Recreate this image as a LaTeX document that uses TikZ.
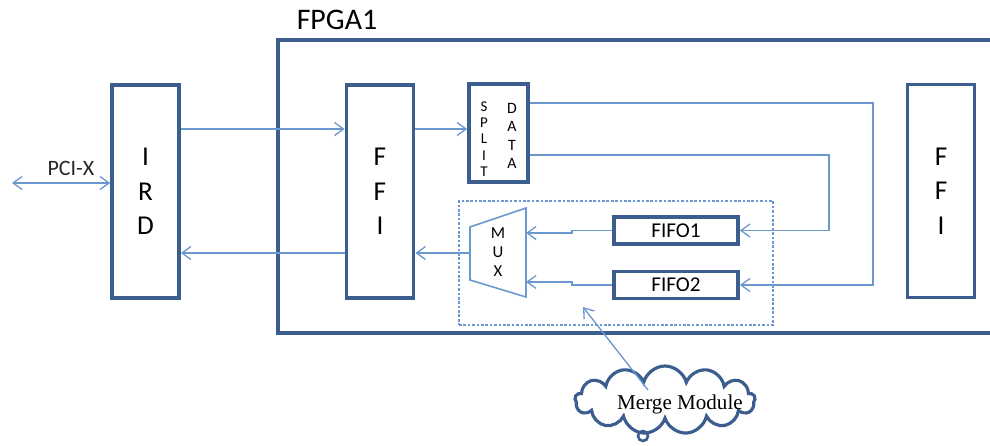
\documentclass[tikz,border=0pt]{standalone}
\usepackage{fontspec}
\setmainfont{Carlito}
\newfontfamily\mmfont{Liberation Serif}
\usetikzlibrary{arrows.meta,shapes.symbols}
\definecolor{boxblue}{RGB}{59,94,143}
\definecolor{wireblue}{RGB}{108,152,208}
\newcommand{\px}{0.2mm}
\tikzset{
  >={Straight Barb[length=1.8mm,width=2.6mm]},
  blk/.style={draw=boxblue, line width=2.1pt, fill=white, inner sep=0pt},
  tallblk/.style={blk, minimum width=67*\px, minimum height=213*\px, align=center, font=\fontsize{15.5}{19.5}\selectfont},
  fifoblk/.style={blk, minimum width=124*\px, minimum height=27*\px, font=\fontsize{12}{13}\selectfont},
  wire/.style={draw=wireblue, line width=0.75pt},
  letters/.style={align=center, inner sep=0pt},
}
\begin{document}
\begin{tikzpicture}[x=\px, y=-\px]
        % \draw[help lines] (0,0) grid[step=50] (990,445);
        \clip (0,0) rectangle (990,445);

        \draw[boxblue, line width=2pt] (278,40) rectangle (1000,333);
        \node[font=\fontsize{17}{19}\selectfont] (fpgalbl) at (337,20) {FPGA1};

        \node[tallblk] (ird) at (145.5,191.5) {I\\R\\D};
        \node[tallblk] (ffia) at (380,191.5) {F\\F\\I};
        \node[tallblk] (ffib) at (941,191) {F\\F\\I};

        \node[blk, minimum width=59*\px, minimum height=98*\px] (split) at (498.5,133) {};
        \node[letters, font=\fontsize{8.5}{9.2}\selectfont] (splitw) at (484,139) {S\\P\\L\\I\\T};
        \node[letters, font=\fontsize{9}{10.4}\selectfont] (dataw) at (512,136) {D\\A\\T\\A};

        % merge module
        \node[draw=wireblue, dash pattern=on 1.5pt off 1pt, line width=0.6pt, minimum width=314*\px, minimum height=124*\px] (mergebox) at (616,263) {};
        \node[fifoblk] (fifoa) at (676,230.5) {FIFO1};
        \node[fifoblk] (fifob) at (676,285) {FIFO2};
        \draw[wireblue, line width=0.9pt, fill=white] (470,227) -- (526,208) -- (526,297) -- (470,280) -- cycle;
        \node[letters, font=\fontsize{9.5}{11}\selectfont] (mux) at (498,252) {M\\U\\X};
        \coordinate (muxina) at (526,233);
        \coordinate (muxinb) at (526,282);
        \coordinate (muxout) at (470,253);

        \coordinate (pcix) at (12,183);
        \coordinate (hiwire) at (0,129);
        \coordinate (lowire) at (0,253);
        \coordinate (outa) at (873,103);
        \coordinate (outb) at (829,155);
        \coordinate (joga) at (572,233);
        \coordinate (jogb) at (572,282);

        \draw[wire,<->] (pcix) -- (pcix -| ird.west) node[pos=0.6, above=0.5pt, font=\fontsize{12.5}{14}\selectfont, text=black!85] (pcilbl) {PCI-X};
        \draw[wire,->] (ird.east |- hiwire) -- (ffia.west |- hiwire);
        \draw[wire,->] (ffia.east |- hiwire) -- (split.west |- hiwire);
        \draw[wire,->] (ffia.west |- lowire) -- (ird.east |- lowire);
        \draw[wire,->] (muxout) -- (ffia.east |- muxout);
        \draw[wire,->] (split.east |- outa) -- (outa) |- (fifob.east);
        \draw[wire,->] (split.east |- outb) -- (outb) |- (fifoa.east);
        \draw[wire,->] (fifoa.west) -| (joga) -- (muxina);
        \draw[wire,->] (fifob.west) -| (jogb) -- (muxinb);

        % the cloud
        \node[cloud, cloud puffs=13, cloud ignores aspect, draw=boxblue, line width=1.8pt, fill=white, inner sep=0pt,
              minimum width=180*\px, minimum height=68*\px] (merge) at (665,400) {};
        \node[font=\mmfont\fontsize{12}{14}\selectfont] (mergelbl) at (680,404) {Merge Module};
        \node[circle, draw=boxblue, line width=1.5pt, minimum size=2mm, inner sep=0pt] (bubble) at (643,436) {};
        \coordinate (mmtail) at (648,390);
        \coordinate (mmtip) at (583,307);
        \draw[wire,->] (mmtail) -- (mmtip);
\end{tikzpicture}
\end{document}
